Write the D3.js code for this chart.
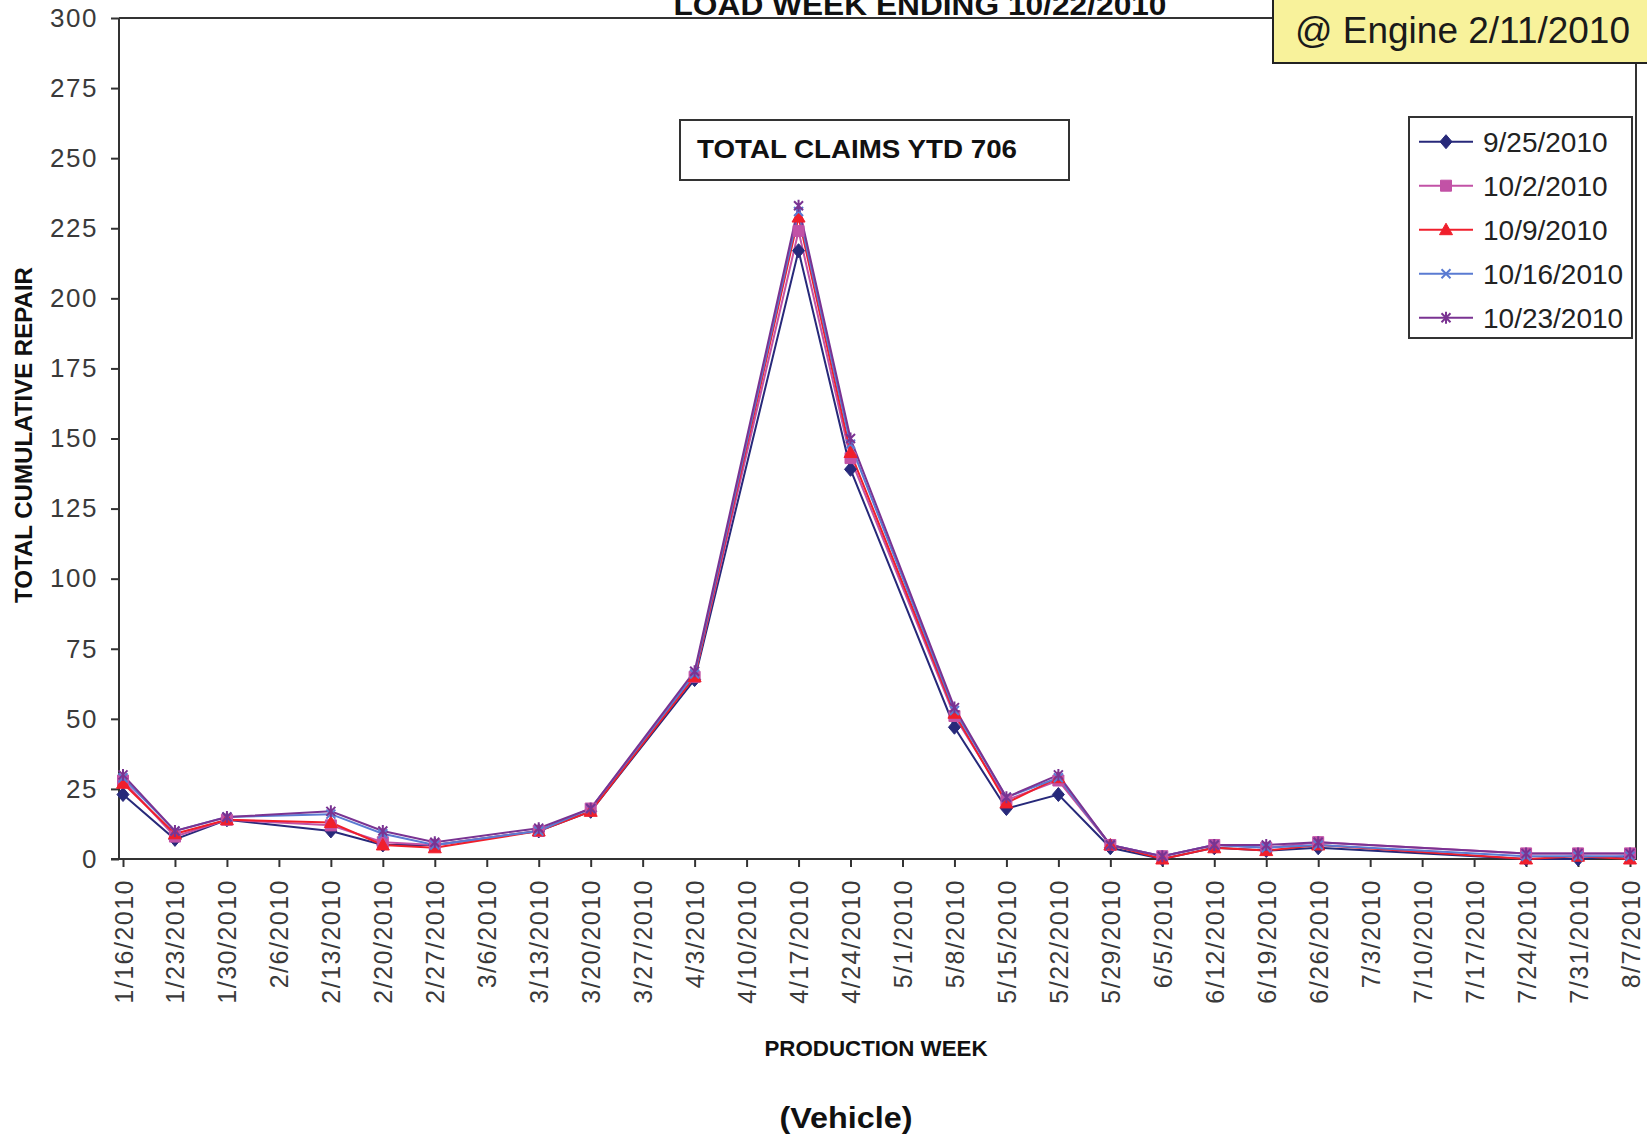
<!DOCTYPE html>
<html>
<head>
<meta charset="utf-8">
<script src="https://cdn.jsdelivr.net/npm/d3@7"></script>
<style>
  html, body { margin: 0; padding: 0; background: #fff; }
  svg { display: block; }
  text { font-family: "Liberation Sans", Arial, sans-serif; }
</style>
</head>
<body>
<svg id="chart" width="1647" height="1139"></svg>
<script>
// ---------- DATA ----------
const categories = ["1/16/2010","1/23/2010","1/30/2010","2/6/2010","2/13/2010","2/20/2010","2/27/2010",
  "3/6/2010","3/13/2010","3/20/2010","3/27/2010","4/3/2010","4/10/2010","4/17/2010","4/24/2010",
  "5/1/2010","5/8/2010","5/15/2010","5/22/2010","5/29/2010","6/5/2010","6/12/2010","6/19/2010",
  "6/26/2010","7/3/2010","7/10/2010","7/17/2010","7/24/2010","7/31/2010","8/7/2010"];

const seriesNames = ["9/25/2010","10/2/2010","10/9/2010","10/16/2010","10/23/2010"];

const s_0925 = [23,7,14,null,10,5,5,null,10,17,null,64,null,217,139,null,47,18,23,4,0,4,3,4,null,null,null,0,0,1];
const s_1002 = [28,8,14,null,12,6,5,null,10,18,null,65,null,224,143,null,51,21,28,5,1,5,4,6,null,null,null,2,2,2];
const s_1009 = [27,9,14,null,13,5,4,null,10,17,null,65,null,229,145,null,52,20,29,5,0,4,3,5,null,null,null,0,1,0];
const s_1016 = [29,10,15,null,16,9,5,null,10,18,null,66,null,231,148,null,53,22,29,5,1,5,4,5,null,null,null,1,1,1];
const s_1023 = [30,10,15,null,17,10,6,null,11,18,null,67,null,233,150,null,54,22,30,5,1,5,5,6,null,null,null,2,2,2];

const yTicks = [0,25,50,75,100,125,150,175,200,225,250,275,300];

const titleText = "LOAD WEEK ENDING 10/22/2010";
const ytdText = "TOTAL CLAIMS YTD 706";
const noteText = "@ Engine 2/11/2010";
const xTitle = "PRODUCTION WEEK";
const yTitle = "TOTAL CUMULATIVE REPAIR";
const subTitle = "(Vehicle)";

// ---------- STYLE ----------
const colors = ["#27297a", "#c252a6", "#f01f2c", "#5a7bd2", "#7a3392"];
const markerTypes = ["diamond", "square", "triangle", "x", "asterisk"];
const allSeries = [s_0925, s_1002, s_1009, s_1016, s_1023];

const svg = d3.select("#chart");
const plotL = 119, plotR = 1636, plotT = 18, plotB = 859;

const x = d3.scalePoint().domain(categories).range([123, 1630]);
const y = d3.scaleLinear().domain([0, 300]).range([plotB, plotT]);

function markerPath(type) {
  switch (type) {
    case "diamond": return "M0,-7L6,0L0,7L-6,0Z";
    case "square": return "M-5.5,-5.5H5.5V5.5H-5.5Z";
    case "triangle": return "M0,-6.5L6.5,5L-6.5,5Z";
    case "x": return "M-4.5,-4.5L4.5,4.5M-4.5,4.5L4.5,-4.5";
    case "asterisk": return "M-4.5,-4.5L4.5,4.5M-4.5,4.5L4.5,-4.5M0,-6L0,6";
  }
}
function drawMarker(g, type, color) {
  const filled = ["diamond","square","triangle"].includes(type);
  g.append("path").attr("d", markerPath(type))
    .attr("fill", filled ? color : "none")
    .attr("stroke", color)
    .attr("stroke-width", filled ? 1 : 2);
}

// ---------- AXES ----------
const yAxis = d3.axisLeft(y).tickValues(yTicks).tickSize(8).tickPadding(13).tickSizeOuter(0);
const gy = svg.append("g").attr("transform", `translate(${plotL},0)`).call(yAxis);
gy.select(".domain").remove();
gy.selectAll(".tick line").attr("stroke", "#333").attr("stroke-width", 2);
gy.selectAll(".tick text").attr("font-size", 26).attr("fill", "#3a3a3a")
  .style("letter-spacing", "1.5px").attr("font-family", "Liberation Sans, Arial, sans-serif");

const xAxis = d3.axisBottom(x).tickSize(8).tickSizeOuter(0);
const gx = svg.append("g").attr("transform", `translate(0,${plotB})`).call(xAxis);
gx.select(".domain").remove();
gx.selectAll(".tick line").attr("stroke", "#333").attr("stroke-width", 2);
gx.selectAll(".tick text")
  .attr("font-size", 25).attr("fill", "#3a3a3a")
  .attr("font-family", "Liberation Sans, Arial, sans-serif")
  .style("letter-spacing", "1.5px")
  .attr("transform", "rotate(-90)")
  .attr("x", -20).attr("y", 0).attr("dy", "0.36em")
  .style("text-anchor", "end");

// frame
svg.append("path")
  .attr("d", `M${plotL},${plotT}H${plotR}V${plotB}H${plotL - 8}M${plotL},${plotT}V${plotB}`)
  .attr("fill", "none").attr("stroke", "#333").attr("stroke-width", 2);

// ---------- LINES ----------
const line = d3.line().x(d => x(d.c)).y(d => y(d.v));
allSeries.forEach((vals, i) => {
  const pts = categories.map((c, j) => ({ c, v: vals[j] })).filter(d => d.v !== null);
  svg.append("path").datum(pts).attr("d", line)
    .attr("fill", "none").attr("stroke", colors[i]).attr("stroke-width", 2);
});
allSeries.forEach((vals, i) => {
  const pts = categories.map((c, j) => ({ c, v: vals[j] })).filter(d => d.v !== null);
  pts.forEach(d => {
    const g = svg.append("g").attr("transform", `translate(${x(d.c)},${y(d.v)})`);
    drawMarker(g, markerTypes[i], colors[i]);
  });
});

// ---------- TITLES ----------
svg.append("text").attr("x", 920).attr("y", 15).attr("text-anchor", "middle")
  .attr("font-size", 30).attr("font-weight", "bold").attr("fill", "#111")
  .attr("textLength", 493).attr("lengthAdjust", "spacingAndGlyphs").text(titleText);

// YTD box
svg.append("rect").attr("x", 680).attr("y", 120).attr("width", 389).attr("height", 60)
  .attr("fill", "#fff").attr("stroke", "#333").attr("stroke-width", 2);
svg.append("text").attr("x", 697).attr("y", 158)
  .attr("font-size", 25).attr("font-weight", "bold").attr("fill", "#111")
  .attr("textLength", 320).attr("lengthAdjust", "spacingAndGlyphs").text(ytdText);

// axis titles
svg.append("text").attr("x", 876).attr("y", 1056).attr("text-anchor", "middle")
  .attr("font-size", 22).attr("font-weight", "bold").attr("fill", "#111")
  .attr("textLength", 223).attr("lengthAdjust", "spacingAndGlyphs").text(xTitle);
svg.append("text").attr("transform", "translate(32,435) rotate(-90)").attr("text-anchor", "middle")
  .attr("font-size", 24).attr("font-weight", "bold").attr("fill", "#111")
  .attr("textLength", 336).attr("lengthAdjust", "spacingAndGlyphs").text(yTitle);
svg.append("text").attr("x", 846).attr("y", 1128).attr("text-anchor", "middle")
  .attr("font-size", 30).attr("font-weight", "bold").attr("fill", "#111")
  .attr("textLength", 133).attr("lengthAdjust", "spacingAndGlyphs").text(subTitle);

// yellow note
svg.append("rect").attr("x", 1273).attr("y", -10).attr("width", 400).attr("height", 73)
  .attr("fill", "#f8f29b").attr("stroke", "#222").attr("stroke-width", 2);
svg.append("text").attr("x", 1295).attr("y", 43)
  .attr("font-size", 37).attr("fill", "#1a1a1a")
  .attr("textLength", 335).attr("lengthAdjust", "spacingAndGlyphs").text(noteText);

// ---------- LEGEND ----------
const lg = svg.append("g");
lg.append("rect").attr("x", 1409).attr("y", 117).attr("width", 223).attr("height", 221)
  .attr("fill", "#fff").attr("stroke", "#333").attr("stroke-width", 2);
seriesNames.forEach((name, i) => {
  const yy = 141.7 + i * 44;
  lg.append("line").attr("x1", 1419).attr("x2", 1473).attr("y1", yy).attr("y2", yy)
    .attr("stroke", colors[i]).attr("stroke-width", 2);
  const g = lg.append("g").attr("transform", `translate(1446,${yy})`);
  drawMarker(g, markerTypes[i], colors[i]);
  lg.append("text").attr("x", 1483).attr("y", yy).attr("dy", "0.36em")
    .attr("font-size", 28).attr("fill", "#222").text(name);
});
</script>
</body>
</html>
